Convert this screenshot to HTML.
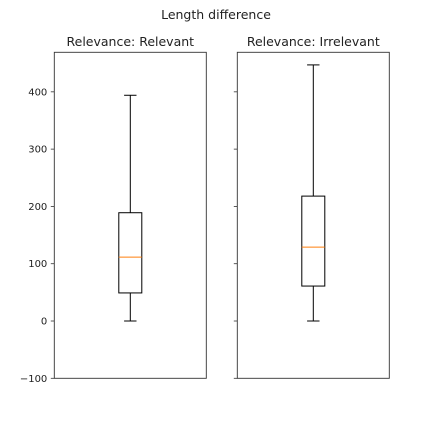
<!DOCTYPE html>
<html><head><meta charset="utf-8"><style>body{margin:0;background:#fff}svg{display:block;font-family:"DejaVu Sans","Liberation Sans",sans-serif}</style></head>
<body>
<svg id="c" width="432" height="432">
<text x="216" y="19" text-anchor="middle" font-size="12.5" fill="#222">Length difference</text>
</svg>
<script>
const categories = ["Relevant", "Irrelevant"];
const whiskerLow = [0, 0];
const q1Values = [49, 61];
const medianValues = [111.5, 129];
const q3Values = [189, 218];
const whiskerHigh = [394, 447];
const yTicks = [-100, 0, 100, 200, 300, 400];
const yMin = -100, yMax = 469;

const svg = document.getElementById('c');
const NS = 'http://www.w3.org/2000/svg';
const plotTop = 52.3, plotBottom = 378.3, pw = 152;
const panelX = [54.3, 237.3];
function y(v){ return plotBottom - (v - yMin) / (yMax - yMin) * (plotBottom - plotTop); }
function mk(tag, attrs, parent){ const e = document.createElementNS(NS, tag); for (const k in attrs) e.setAttribute(k, attrs[k]); (parent||svg).appendChild(e); return e; }

categories.forEach((cat, i) => {
  const x0 = panelX[i], cx = x0 + pw/2;
  const g = mk('g', {});
  
  
  const t = mk('text', {x: cx, y: 46, 'text-anchor': 'middle', 'font-size': 12.5, fill: '#222'}, g);
  t.textContent = 'Relevance: ' + cat;
  
  
  yTicks.forEach(v => {
    const tk = mk('line', {x1: x0 - 3.5, x2: x0, y1: y(v), y2: y(v), stroke: '#333', 'stroke-width': 0.8}, g);
    
    
    if (i === 0) {
      const lb = mk('text', {x: x0 - 7, y: y(v) + 3.5, 'text-anchor': 'end', 'font-size': 10, fill: '#222'}, g);
      lb.textContent = v < 0 ? '\u2212' + Math.abs(v) : v;
      
      
    }
  });
  const hw = 11.5, cw = 6.2;
  const b = mk('g', {}, g);
  
  
  mk('line', {x1: cx, x2: cx, y1: y(whiskerHigh[i]), y2: y(q3Values[i]), stroke: '#000', 'stroke-width': 1}, b);
  mk('line', {x1: cx, x2: cx, y1: y(q1Values[i]), y2: y(whiskerLow[i]), stroke: '#000', 'stroke-width': 1}, b);
  mk('line', {x1: cx - cw, x2: cx + cw, y1: y(whiskerHigh[i]), y2: y(whiskerHigh[i]), stroke: '#000', 'stroke-width': 1}, b);
  mk('line', {x1: cx - cw, x2: cx + cw, y1: y(whiskerLow[i]), y2: y(whiskerLow[i]), stroke: '#000', 'stroke-width': 1}, b);
  mk('rect', {x: cx - hw, y: y(q3Values[i]), width: hw*2, height: y(q1Values[i]) - y(q3Values[i]), fill: 'none', stroke: '#000', 'stroke-width': 1}, b);
  mk('line', {x1: cx - hw, x2: cx + hw, y1: y(medianValues[i]), y2: y(medianValues[i]), stroke: '#ff7f0e', 'stroke-width': 1}, b);
  const fr = mk('rect', {x: x0, y: plotTop, width: pw, height: plotBottom - plotTop, fill: 'none', stroke: '#333', 'stroke-width': 0.9}, g);
  
  
});
</script>
</body></html>
